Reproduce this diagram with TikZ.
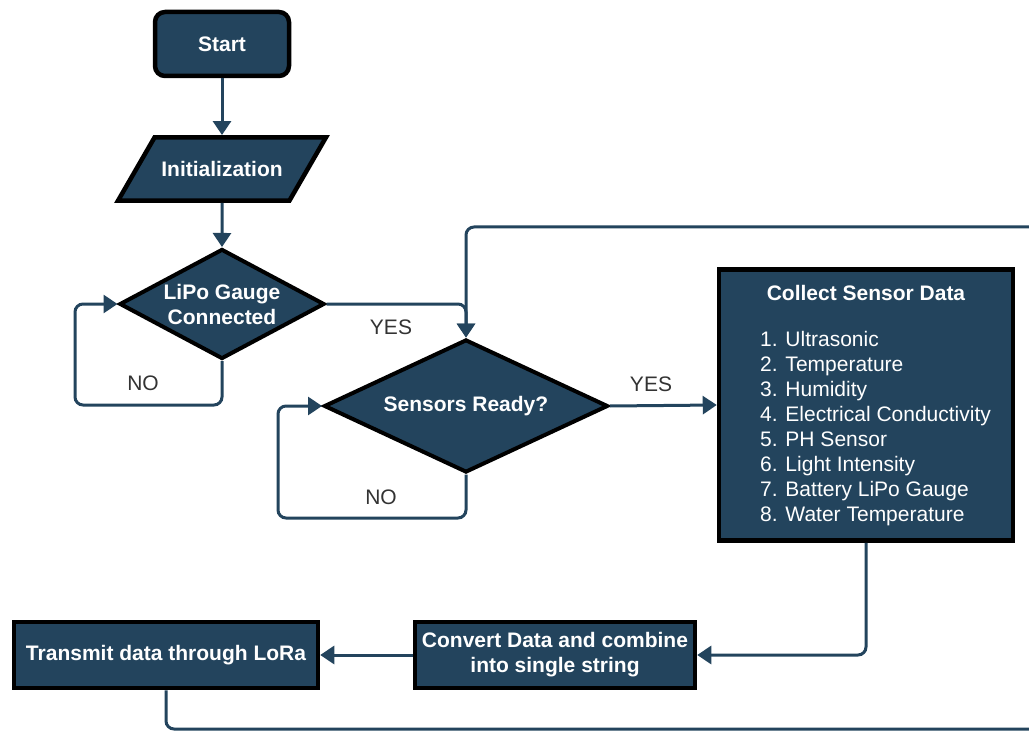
\documentclass[tikz,border=0pt]{standalone}
\usepackage{fontspec}
\setmainfont{Liberation Sans}
\usetikzlibrary{arrows.meta,positioning,shapes.geometric}
\definecolor{flowblue}{HTML}{23445D}
\definecolor{labelgray}{HTML}{333333}

\begin{document}
\begin{tikzpicture}[x=1pt, y=-1pt,
    every node/.style={font=\fontsize{21}{25}\selectfont},
    block/.style={draw=black, line width=4.5pt, fill=flowblue, text=white, align=center, inner sep=0pt,
      font=\bfseries\fontsize{21}{25}\selectfont},
    decision/.style={block, diamond, line width=4pt},
    flow/.style={-{Triangle[length=14pt,width=18pt]}, draw=flowblue, line width=3pt, rounded corners=8pt},
    answer/.style={text=labelgray}]
    \path[fill=white, use as bounding box] (0,0) rectangle (1029,733);
    \clip (0,0) rectangle (1029,733);

    \node[block, rounded corners=10pt, minimum width=134, minimum height=64] (start) at (222,44) {Start};
    \node[block, trapezium, trapezium left angle=60, trapezium right angle=120, trapezium stretches body=true,
      inner ysep=24pt, minimum width=208] (init) at (222,169) {Initialization};
    \node[decision, aspect=1.85, minimum width=205, minimum height=110] (lipo) at (222,304) {LiPo Gauge\\Connected};
    \node[decision, aspect=2.1, minimum width=284, minimum height=133] (sensors) at (466,406) {Sensors Ready?};

    % sensor list box
    \node[block, minimum width=294, minimum height=271] (collect) at (866,405) {};
    \node[text=white, font=\bfseries\fontsize{21}{25}\selectfont] (collecttitle) at (866,293) {Collect Sensor Data};
    \node[text=white, align=left, anchor=west, inner sep=0pt] (collectlist) at (760,429) {1. Ultrasonic\\2. Temperature\\3. Humidity\\4. Electrical Conductivity\\5. PH Sensor\\6. Light Intensity\\7. Battery LiPo Gauge\\8. Water Temperature};

    \node[block, minimum width=280, minimum height=66] (convert) at (555,655) {Convert Data and combine\\into single string};
    \node[block, minimum width=304, minimum height=66] (transmit) at (166,655) {Transmit data through LoRa};

    \coordinate (lipoloop) at (75,405);
    \coordinate (sensloop) at (278,518);
    \coordinate (returnlow) at (1060,729);
    \coordinate (returnhigh) at (1060,227);

    \draw[flow] (start) -- (init);
    \draw[flow] (init) -- (lipo);
    \draw[flow] (lipo.south) |- (lipoloop) |- (lipo.west);
    \draw[flow] (lipo.east) -| (sensors.north);
    \draw[flow] (sensors.south) |- (sensloop) |- (sensors.west);
    \draw[flow] (sensors.east) -- (collect.west);
    \draw[flow] (collect.south) |- (convert.east);
    \draw[flow] (convert) -- (transmit);
    \draw[flow] (transmit.south) |- (returnlow) -- (returnhigh) -| (sensors.north);

    \node[answer] (lipono) at (143,383) {NO};
    \node[answer] (lipoyes) at (391,327) {YES};
    \node[answer] (sensno) at (381,497) {NO};
    \node[answer] (sensyes) at (651,384) {YES};
\end{tikzpicture}
\end{document}
